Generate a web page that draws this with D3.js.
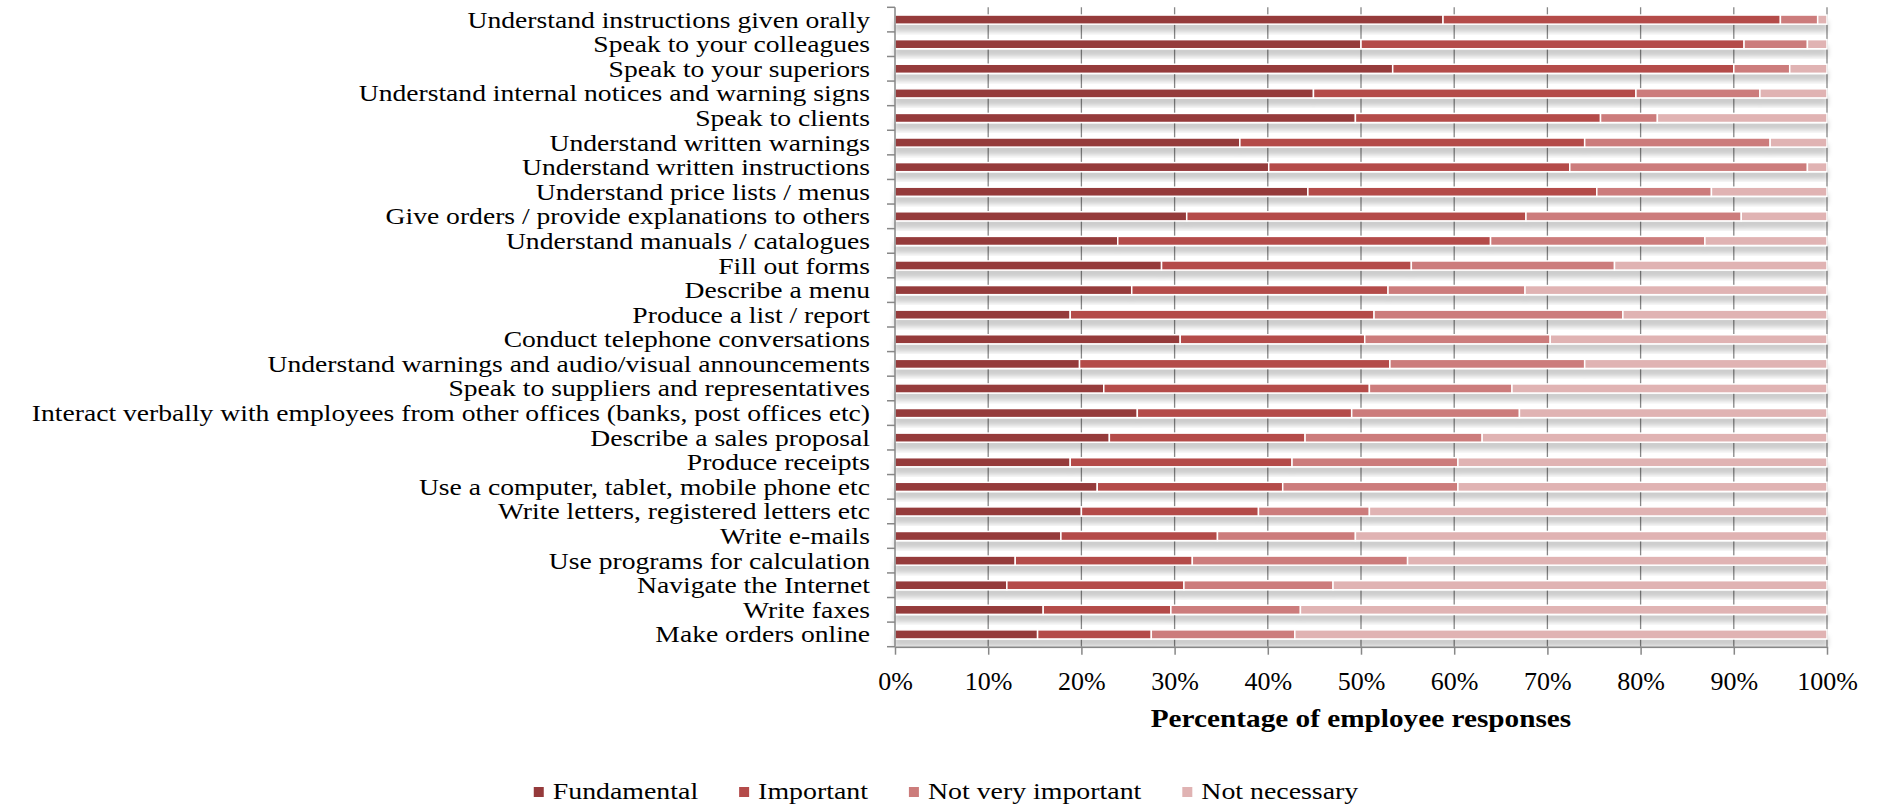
<!DOCTYPE html>
<html>
<head>
<meta charset="utf-8">
<script src="https://cdn.jsdelivr.net/npm/d3@7"></script>
<style>
  html, body { margin: 0; padding: 0; background: #ffffff; }
  svg { display: block; }
  text { font-family: "Liberation Serif", "Times New Roman", serif; fill: #000; }
</style>
</head>
<body>
<svg id="chart" width="1878" height="806"></svg>
<script>
// Language skills: how employees rate each task (percent of responses)
const categories = [
  "Understand instructions given orally",
  "Speak to your colleagues",
  "Speak to your superiors",
  "Understand internal notices and warning signs",
  "Speak to clients",
  "Understand written warnings",
  "Understand written instructions",
  "Understand price lists / menus",
  "Give orders / provide explanations to others",
  "Understand manuals / catalogues",
  "Fill out forms",
  "Describe a menu",
  "Produce a list / report",
  "Conduct telephone conversations",
  "Understand warnings and audio/visual announcements",
  "Speak to suppliers and representatives",
  "Interact verbally with employees from other offices (banks, post offices etc)",
  "Describe a sales proposal",
  "Produce receipts",
  "Use a computer, tablet, mobile phone etc",
  "Write letters, registered letters etc",
  "Write e-mails",
  "Use programs for calculation",
  "Navigate the Internet",
  "Write faxes",
  "Make orders online"
];

const fundamental      = [58.8, 50.0, 53.4, 44.9, 49.4, 37.0, 40.1, 44.3, 31.3, 23.9, 28.6, 25.4, 18.8, 30.6, 19.8, 22.4, 26.0, 23.0, 18.8, 21.7, 20.0, 17.8, 12.9, 12.0, 15.9, 15.3];
const important        = [36.2, 41.1, 36.6, 34.6, 26.3, 37.0, 32.3, 31.0, 36.4, 40.0, 26.8, 27.5, 32.6, 19.8, 33.3, 28.5, 23.0, 21.0, 23.8, 19.9, 19.0, 16.8, 19.0, 19.0, 13.7, 12.2];
const notVeryImportant = [ 4.0,  6.8,  6.0, 13.3,  6.1, 19.9, 25.5, 12.3, 23.1, 23.0, 21.8, 14.7, 26.7, 19.9, 20.9, 15.3, 18.0, 19.0, 17.8, 18.8, 11.9, 14.8, 23.1, 16.0, 13.9, 15.4];
const notNecessary     = [ 1.0,  2.1,  4.0,  7.2, 18.2,  6.1,  2.1, 12.4,  9.2, 13.1, 22.8, 32.4, 21.9, 29.7, 26.0, 33.8, 33.0, 37.0, 39.6, 39.6, 49.1, 50.6, 45.0, 53.0, 56.5, 57.1];

const seriesNames  = ["Fundamental", "Important", "Not very important", "Not necessary"];
const seriesColors = ["#953a3b", "#b44b4a", "#cc7c7b", "#e0b3b3"];
const tickValues   = [0, 10, 20, 30, 40, 50, 60, 70, 80, 90, 100];
const axisTitle    = "Percentage of employee responses";

const rows = categories.map((c, i) => ({
  category: c,
  "Fundamental": fundamental[i],
  "Important": important[i],
  "Not very important": notVeryImportant[i],
  "Not necessary": notNecessary[i]
}));
const stacked = d3.stack().keys(seriesNames)(rows);

const svg = d3.select("#chart");
const plot = { left: 895, right: 1827, top: 7.3, bottom: 646.7 };
const axisGrey = "#878787";
const labelSize = 23;
const stretch = 1.2;   // horizontal widening applied to the serif text

const x = d3.scaleLinear().domain([0, 100]).range([plot.left, plot.right]);
const y = d3.scaleBand().domain(categories).range([plot.top, plot.bottom])
  .paddingInner(0.63).paddingOuter(0.315);
const color = d3.scaleOrdinal().domain(seriesNames).range(seriesColors);

// widen a text element horizontally by the shared stretch factor
function widen(sel, k) {
  sel.each(function () {
    const w = this.getComputedTextLength();
    d3.select(this).attr("textLength", w * k).attr("lengthAdjust", "spacingAndGlyphs");
  });
}

// soft shadow cast below every bar
const defs = svg.append("defs");
const shadow = defs.append("filter").attr("id", "barShadow")
  .attr("x", "-1%").attr("y", "-50%").attr("width", "102%").attr("height", "260%");
shadow.append("feDropShadow")
  .attr("dx", 0).attr("dy", 7).attr("stdDeviation", 2.4)
  .attr("flood-color", "#000").attr("flood-opacity", 0.2);

// vertical gridlines
svg.append("g").selectAll("line")
  .data(tickValues.filter(d => d > 0))
  .join("line")
  .attr("x1", d => x(d)).attr("x2", d => x(d))
  .attr("y1", plot.top).attr("y2", plot.bottom)
  .attr("stroke", axisGrey).attr("stroke-width", 1.3);

// stacked bars, one group per category so the shadow runs under the whole bar
const rowGroups = svg.append("g").selectAll("g")
  .data(rows.map((r, i) => i))
  .join("g")
  .attr("filter", "url(#barShadow)");

rowGroups.selectAll("rect")
  .data(i => stacked.map(s => ({ key: s.key, v: s[i], cat: categories[i] })))
  .join("rect")
  .attr("x", d => x(d.v[0]))
  .attr("width", d => x(d.v[1]) - x(d.v[0]))
  .attr("y", d => y(d.cat))
  .attr("height", y.bandwidth())
  .attr("fill", d => color(d.key))
  .attr("stroke", "#ffffff")
  .attr("stroke-width", 1.5);

// left axis with ticks on the category boundaries
const leftAxis = svg.append("g");
leftAxis.append("line")
  .attr("x1", plot.left).attr("x2", plot.left)
  .attr("y1", plot.top).attr("y2", plot.bottom)
  .attr("stroke", axisGrey).attr("stroke-width", 1.5);
leftAxis.selectAll("line.tick")
  .data(d3.range(categories.length + 1))
  .join("line").attr("class", "tick")
  .attr("x1", plot.left - 8).attr("x2", plot.left)
  .attr("y1", i => plot.top + i * y.step()).attr("y2", i => plot.top + i * y.step())
  .attr("stroke", axisGrey).attr("stroke-width", 1.5);

// category labels
svg.append("g").selectAll("text")
  .data(categories)
  .join("text")
  .attr("x", 870)
  .attr("y", d => y(d) + y.bandwidth() / 2 + 8)
  .attr("text-anchor", "end")
  .style("font-size", labelSize + "px")
  .text(d => d)
  .call(widen, stretch);

// bottom axis
const bottomAxis = svg.append("g")
  .attr("transform", `translate(0,${plot.bottom})`)
  .call(d3.axisBottom(x).tickValues(tickValues).tickFormat(d => d + "%")
    .tickSize(8).tickSizeOuter(0).tickPadding(17));
bottomAxis.select(".domain").attr("stroke", axisGrey).attr("stroke-width", 1.5);
bottomAxis.selectAll(".tick line").attr("stroke", axisGrey).attr("stroke-width", 1.5);
bottomAxis.selectAll(".tick text")
  .style("font-family", '"Liberation Serif", serif')
  .style("font-size", "26px").attr("fill", "#000");

// axis title
svg.append("text")
  .attr("x", (plot.left + plot.right) / 2)
  .attr("y", 727)
  .attr("text-anchor", "middle")
  .style("font-size", "25px")
  .style("font-weight", "bold")
  .text(axisTitle)
  .call(widen, 1.17);

// legend, centred below the chart
const legend = svg.append("g");
const items = legend.selectAll("g").data(seriesNames).join("g");
items.append("rect")
  .attr("width", 10).attr("height", 10)
  .attr("y", 787)
  .attr("fill", d => color(d));
items.append("text")
  .attr("x", 19).attr("y", 799)
  .style("font-size", "24px")
  .text(d => d)
  .call(widen, 1.16);
const gap = 41;
const widths = items.nodes().map(n => 19 + (+n.querySelector("text").getAttribute("textLength")));
const total = d3.sum(widths) + gap * (widths.length - 1);
let cursor = 946 - total / 2;
items.each(function (d, i) {
  d3.select(this).attr("transform", `translate(${cursor},0)`);
  cursor += widths[i] + gap;
});
</script>
</body>
</html>
